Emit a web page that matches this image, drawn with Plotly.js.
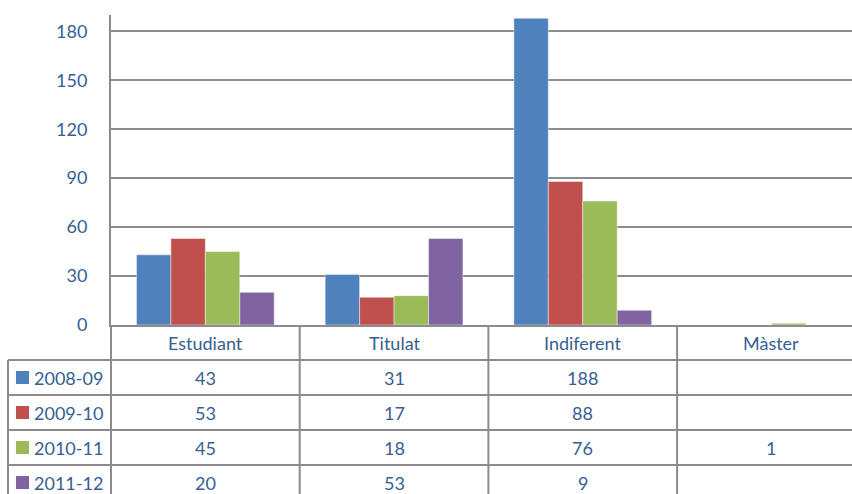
<!DOCTYPE html>
<html>
<head>
<meta charset="utf-8">
<script src="https://cdn.plot.ly/plotly-3.0.1.min.js"></script>
<style>
html,body{margin:0;padding:0;overflow:hidden;background:#fff;}
#chart{width:852px;height:494px;}
</style>
</head>
<body>
<div id="chart"></div>
<script>
// ---- data ----
var categories = ["Estudiant", "Titulat", "Indiferent", "Màster"];
var seriesNames = ["2008-09", "2009-10", "2010-11", "2011-12"];
var s2008 = [43, 31, 188, null];
var s2009 = [53, 17, 88, null];
var s2010 = [45, 18, 76, 1];
var s2011 = [20, 53, 9, null];
var seriesColors = ["#4F81BD", "#C0504D", "#9BBB59", "#8064A2"];
var yTicks = [0, 30, 60, 90, 120, 150, 180];

var allSeries = [s2008, s2009, s2010, s2011];

var W = 852, H = 494;
var textColor = "#376092";
var lineColor = "#8c8c8c";
var font = "Lato, 'Open Sans', sans-serif";
function py(px){ return 1 - px / H; }
function pxx(px){ return px / W; }

var traces = allSeries.map(function(vals, i){
  return {
    type: "bar",
    name: seriesNames[i],
    x: categories,
    y: vals,
    marker: {color: seriesColors[i], line: {color: "rgba(255,255,255,0.45)", width: 1}},
    hoverinfo: "x+y+name"
  };
});

// table geometry (pixels)
var axisBottom = 325, headerBottom = 360, rowH = 35;
var shapes = [];
var annotations = [];
// horizontal row lines
for (var r = 0; r < 4; r++) {
  var yy = headerBottom + r * rowH;
  shapes.push({type: "line", xref: "paper", yref: "paper", x0: pxx(8), x1: 1, y0: py(yy), y1: py(yy),
               line: {color: lineColor, width: 2}});
}
// left vertical borders
shapes.push({type: "line", xref: "paper", yref: "paper", x0: pxx(111), x1: pxx(111), y0: py(axisBottom), y1: 0,
             line: {color: lineColor, width: 2}});
shapes.push({type: "line", xref: "paper", yref: "paper", x0: pxx(8), x1: pxx(8), y0: py(headerBottom), y1: 0,
             line: {color: lineColor, width: 2}});
// category dividers
for (var c = 0; c < categories.length - 1; c++) {
  shapes.push({type: "line", xref: "x", yref: "paper", x0: c + 0.5, x1: c + 0.5, y0: py(axisBottom), y1: 0,
               line: {color: lineColor, width: 2}});
}
// header labels
categories.forEach(function(cat, i){
  annotations.push({xref: "x", yref: "paper", x: i, y: py((axisBottom + headerBottom) / 2),
    text: cat, showarrow: false, xanchor: "center", yanchor: "middle",
    font: {family: font, size: 18, color: textColor}});
});
// rows
allSeries.forEach(function(vals, r){
  var cy = headerBottom + r * rowH + rowH / 2;
  shapes.push({type: "rect", xref: "paper", yref: "paper", x0: pxx(16), x1: pxx(29), y0: py(cy - 6.5), y1: py(cy + 6.5),
               fillcolor: seriesColors[r], line: {width: 0}});
  annotations.push({xref: "paper", yref: "paper", x: pxx(32), y: py(cy), text: seriesNames[r],
    showarrow: false, xanchor: "left", yanchor: "middle", font: {family: font, size: 18, color: textColor}});
  vals.forEach(function(v, i){
    if (v === null) return;
    annotations.push({xref: "x", yref: "paper", x: i, y: py(cy), text: String(v),
      showarrow: false, xanchor: "center", yanchor: "middle", font: {family: font, size: 18, color: textColor}});
  });
});

var colW = 188.7;
var xRight = (W - 111) / colW - 0.5;

var layout = {
  width: W, height: H,
  margin: {l: 0, r: 0, t: 0, b: 0},
  paper_bgcolor: "#ffffff",
  plot_bgcolor: "#ffffff",
  showlegend: false,
  barmode: "group",
  bargap: 0.27,
  bargroupgap: 0,
  xaxis: {
    domain: [111 / W, 1],
    range: [-0.5, xRight],
    showticklabels: false,
    ticks: "",
    showgrid: false,
    zeroline: false,
    showline: true, linecolor: lineColor, linewidth: 2,
    fixedrange: true
  },
  yaxis: {
    domain: [py(axisBottom), py(15)],
    range: [0, 190],
    tickvals: yTicks,
    ticktext: yTicks.map(String),
    ticks: "",
    ticklabelstandoff: 18,
    tickfont: {family: font, size: 18, color: textColor},
    showgrid: true, gridcolor: lineColor, gridwidth: 2,
    zeroline: false,
    showline: true, linecolor: lineColor, linewidth: 2,
    fixedrange: true
  },
  shapes: shapes,
  annotations: annotations
};

Plotly.newPlot("chart", traces, layout, {displayModeBar: false, staticPlot: true});
</script>
</body>
</html>
